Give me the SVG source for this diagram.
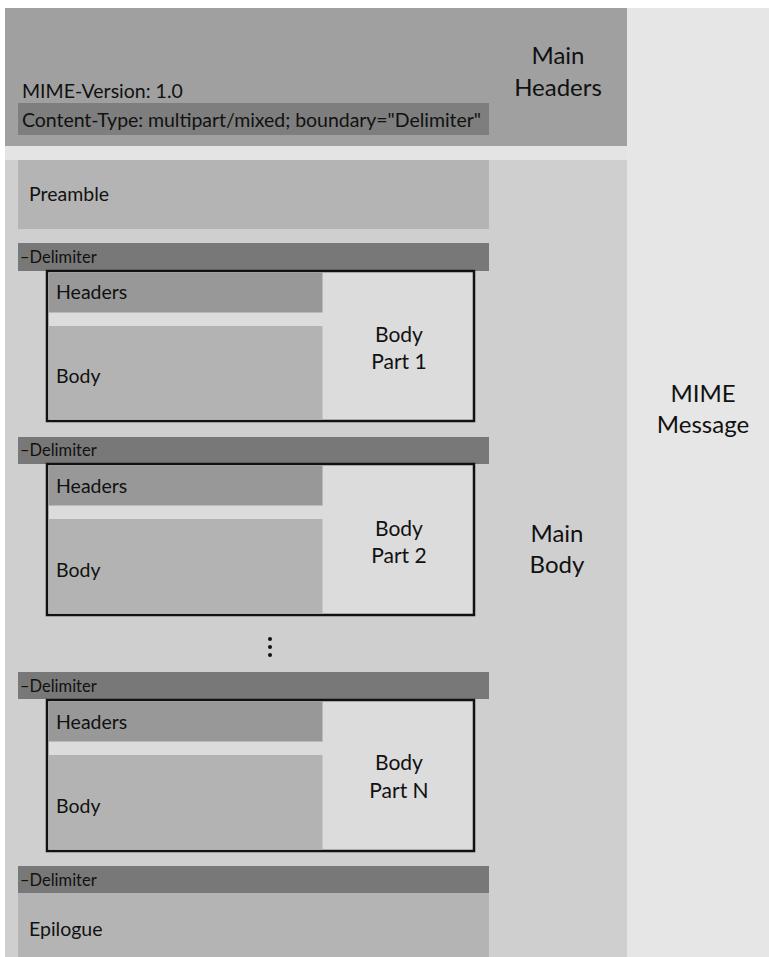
<svg xmlns="http://www.w3.org/2000/svg" width="769" height="957" viewBox="0 0 769 957">
<style>
text{font-family:"Lato","Liberation Sans",sans-serif;fill:#111}
.lbl{font-size:24px;text-anchor:middle}
.pl{font-size:21px;text-anchor:middle}
.sm{font-size:19.5px}
.dl{font-size:16.5px}
.delim{fill:#787878}
.box{fill:#dcdcdc;stroke:#111;stroke-width:2.5}
.hdr{fill:#989898}
.bdy{fill:#b3b3b3}
</style>
<rect width="769" height="957" fill="#ffffff"/>
<g id="mime-message">
<rect x="627" y="8" width="142" height="949" fill="#e6e6e6"/>
<text class="lbl" x="703" y="402">MIME</text>
<text class="lbl" x="703" y="433">Message</text>
</g>
<rect x="5" y="146" width="622" height="14" fill="#e4e4e4"/>
<g id="main-headers">
<rect x="5" y="8" width="622" height="138" fill="#a0a0a0"/>
<text class="sm" x="22" y="98">MIME-Version: 1.0</text>
<rect x="18" y="103" width="471" height="32" fill="#7e7e7e"/>
<text class="sm" x="22" y="127" textLength="459">Content-Type: multipart/mixed; boundary="Delimiter"</text>
<text class="lbl" x="558" y="64">Main</text>
<text class="lbl" x="558" y="96">Headers</text>
</g>
<g id="main-body">
<rect x="5" y="160" width="622" height="797" fill="#cfcfcf"/>
<text class="lbl" x="557" y="542">Main</text>
<text class="lbl" x="557" y="573">Body</text>
</g>
<g id="preamble">
<rect x="18" y="160" width="471" height="69" fill="#b4b4b4"/>
<text class="sm" x="29" y="201">Preamble</text>
</g>
<g id="delimiter-1">
<rect class="delim" x="18" y="243" width="471" height="28"/>
<text class="dl" x="20" y="263">–Delimiter</text>
</g>
<g id="body-part-1">
<rect class="box" x="47" y="271" width="427" height="150"/>
<rect class="hdr" x="48.5" y="272.5" width="274" height="40"/>
<rect class="bdy" x="48.5" y="326" width="274" height="93.5"/>
<text class="sm" x="56" y="299">Headers</text>
<text class="sm" x="56" y="383">Body</text>
<text class="pl" x="399" y="342">Body</text>
<text class="pl" x="399" y="369">Part 1</text>
</g>
<g id="delimiter-2">
<rect class="delim" x="18" y="437" width="471" height="27"/>
<text class="dl" x="20" y="456">–Delimiter</text>
</g>
<g id="body-part-2">
<rect class="box" x="47" y="464" width="427" height="151"/>
<rect class="hdr" x="48.5" y="465.5" width="274" height="40"/>
<rect class="bdy" x="48.5" y="519" width="274" height="94.5"/>
<text class="sm" x="56" y="493">Headers</text>
<text class="sm" x="56" y="577">Body</text>
<text class="pl" x="399" y="536">Body</text>
<text class="pl" x="399" y="563">Part 2</text>
</g>
<g id="ellipsis" fill="#111">
<circle cx="270" cy="639" r="2"/>
<circle cx="270" cy="647" r="2"/>
<circle cx="270" cy="655" r="2"/>
</g>
<g id="delimiter-3">
<rect class="delim" x="18" y="672" width="471" height="27"/>
<text class="dl" x="20" y="692">–Delimiter</text>
</g>
<g id="body-part-n">
<rect class="box" x="47" y="700" width="427" height="151"/>
<rect class="hdr" x="48.5" y="701.5" width="274" height="40"/>
<rect class="bdy" x="48.5" y="755" width="274" height="94.5"/>
<text class="sm" x="56" y="729">Headers</text>
<text class="sm" x="56" y="813">Body</text>
<text class="pl" x="399" y="770">Body</text>
<text class="pl" x="399" y="798">Part N</text>
</g>
<g id="delimiter-4">
<rect class="delim" x="18" y="866" width="471" height="27"/>
<text class="dl" x="20" y="886">–Delimiter</text>
</g>
<g id="epilogue">
<rect x="18" y="893" width="471" height="64" fill="#b4b4b4"/>
<text class="sm" x="29" y="936">Epilogue</text>
</g>
<g id="connectors"/>
</svg>
